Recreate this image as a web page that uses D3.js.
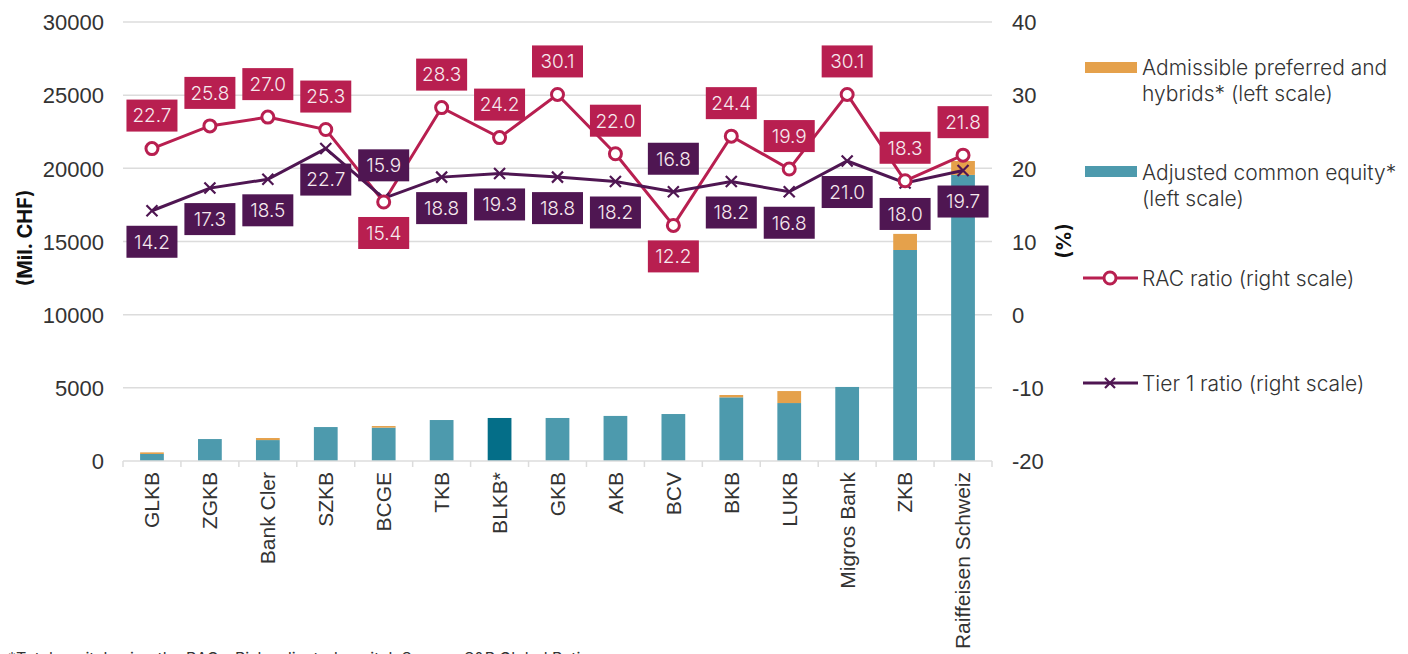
<!DOCTYPE html>
<html>
<head>
<meta charset="utf-8">
<script src="https://cdn.jsdelivr.net/npm/d3@7"></script>
<style>
  body { margin: 0; background: #fff; }
  svg { display: block; font-family: Inter, "Noto Sans", sans-serif; }
  .tick text { fill: #333; }
</style>
</head>
<body>
<svg id="chart" width="1408" height="654"></svg>
<script>
// data
const banks = ["GLKB", "ZGKB", "Bank Cler", "SZKB", "BCGE", "TKB", "BLKB*", "GKB", "AKB", "BCV", "BKB", "LUKB", "Migros Bank", "ZKB", "Raiffeisen Schweiz"];
const commonEquity = [480, 1500, 1430, 2320, 2280, 2800, 2940, 2940, 3080, 3210, 4350, 3960, 5060, 14420, 19550];
const hybrids = [110, 0, 140, 0, 110, 0, 0, 0, 0, 0, 160, 820, 0, 1100, 950];
const racRatio = [22.7, 25.8, 27.0, 25.3, 15.4, 28.3, 24.2, 30.1, 22.0, 12.2, 24.4, 19.9, 30.1, 18.3, 21.8];
const tier1Ratio = [14.2, 17.3, 18.5, 22.7, 15.9, 18.8, 19.3, 18.8, 18.2, 16.8, 18.2, 16.8, 21.0, 18.0, 19.7];
const leftTicks = [0, 5000, 10000, 15000, 20000, 25000, 30000];
const rightTicks = [-20, -10, 0, 10, 20, 30, 40];

const colors = {
  teal: "#4d9aad", orange: "#e5a14b", highlight: "#046e88",
  rac: "#b81f50", tier1: "#4f1652", grid: "#dcdcdc"
};

const svg = d3.select("#chart");
const margin = { left: 123, right: 416, top: 22, bottom: 193 };
const plotW = 1408 - margin.left - margin.right;
const plotH = 654 - margin.top - margin.bottom;

const g = svg.append("g").attr("transform", `translate(${margin.left},${margin.top})`);

const x = d3.scaleBand().domain(banks).range([0, plotW]).paddingInner(0.59).paddingOuter(0.295);
const xEdge = d3.scaleBand().domain(banks).range([0, plotW]);
const yL = d3.scaleLinear().domain([0, 30000]).range([plotH, 0]);
const yR = d3.scaleLinear().domain([-20, 40]).range([plotH, 0]);

// gridlines
g.selectAll(".grid").data(leftTicks.slice(1)).enter().append("line")
  .attr("x1", 0).attr("x2", plotW)
  .attr("y1", d => yL(d)).attr("y2", d => yL(d))
  .attr("stroke", colors.grid).attr("stroke-width", 1.5);

// left axis
const leftAxis = g.append("g").call(d3.axisLeft(yL).tickValues(leftTicks).tickSize(0).tickPadding(19).tickFormat(d => String(d)));
leftAxis.select(".domain").remove();
leftAxis.selectAll("text").attr("font-size", 22).attr("font-weight", 300).attr("dy", "0.35em");

// right axis
const rightAxis = g.append("g").attr("transform", `translate(${plotW},0)`)
  .call(d3.axisRight(yR).tickValues(rightTicks).tickSize(0).tickPadding(20).tickFormat(d => String(d)));
rightAxis.select(".domain").remove();
rightAxis.selectAll("text").attr("font-size", 22).attr("font-weight", 300).attr("dy", "0.35em");

// bars
const stack = banks.map((b, i) => ({ bank: b, ce: commonEquity[i], hy: hybrids[i] }));
g.selectAll(".ce").data(stack).enter().append("rect")
  .attr("x", d => x(d.bank)).attr("width", x.bandwidth())
  .attr("y", d => yL(d.ce)).attr("height", d => yL(0) - yL(d.ce))
  .attr("fill", d => d.bank === "BLKB*" ? colors.highlight : colors.teal);
g.selectAll(".hy").data(stack.filter(d => d.hy > 0)).enter().append("rect")
  .attr("x", d => x(d.bank)).attr("width", x.bandwidth())
  .attr("y", d => yL(d.ce + d.hy)).attr("height", d => yL(d.ce) - yL(d.ce + d.hy))
  .attr("fill", colors.orange);

// bottom axis
g.append("line").attr("x1", 0).attr("x2", plotW).attr("y1", plotH).attr("y2", plotH)
  .attr("stroke", colors.grid).attr("stroke-width", 1.5);
g.selectAll(".xt").data(banks.concat(["end"])).enter().append("line")
  .attr("x1", (d, i) => i * xEdge.step()).attr("x2", (d, i) => i * xEdge.step())
  .attr("y1", plotH).attr("y2", plotH + 6)
  .attr("stroke", colors.grid).attr("stroke-width", 1.5);
g.selectAll(".xl").data(banks).enter().append("text")
  .attr("transform", d => `translate(${x(d) + x.bandwidth() / 2},${plotH + 11}) rotate(-90)`)
  .attr("text-anchor", "end").attr("dy", "0.35em")
  .attr("font-family", "'Liberation Sans', Arial, sans-serif")
  .attr("font-size", 21).attr("fill", "#333")
  .text(d => d);

// lines
const cx = d => x(d) + x.bandwidth() / 2;
const ratioLine = d3.line().x((d, i) => cx(banks[i])).y(d => yR(d));
g.append("path").datum(racRatio).attr("d", ratioLine)
  .attr("fill", "none").attr("stroke", colors.rac).attr("stroke-width", 3);
g.append("path").datum(tier1Ratio).attr("d", ratioLine)
  .attr("fill", "none").attr("stroke", colors.tier1).attr("stroke-width", 3);

g.selectAll(".xm").data(tier1Ratio).enter().append("path")
  .attr("d", (d, i) => {
    const px = cx(banks[i]), py = yR(d), s = 5.5;
    return `M${px - s},${py - s}L${px + s},${py + s}M${px - s},${py + s}L${px + s},${py - s}`;
  })
  .attr("stroke", colors.tier1).attr("stroke-width", 2.2);

g.selectAll(".cm").data(racRatio).enter().append("circle")
  .attr("cx", (d, i) => cx(banks[i])).attr("cy", d => yR(d)).attr("r", 6)
  .attr("fill", "#fff").attr("stroke", colors.rac).attr("stroke-width", 3);

// data labels: higher series above the point, lower one below
function addLabels(values, other, color) {
  values.forEach((v, i) => {
    const px = cx(banks[i]), py = yR(v);
    const above = v >= other[i];
    const bw = 51, bh = 32;
    const top = above ? py - 17 - bh : py + 15;
    const lg = g.append("g");
    lg.append("rect").attr("x", px - bw / 2).attr("y", top).attr("width", bw).attr("height", bh).attr("fill", color);
    lg.append("text").attr("x", px).attr("y", top + bh / 2).attr("dy", "0.36em")
      .attr("text-anchor", "middle").attr("font-size", 19).attr("font-weight", 300)
      .attr("fill", "#f6e9ee").text(v.toFixed(1));
  });
}
addLabels(racRatio, tier1Ratio, colors.rac);
addLabels(tier1Ratio, racRatio, colors.tier1);

// axis titles
svg.append("text").attr("transform", "translate(32,238) rotate(-90)")
  .attr("text-anchor", "middle").attr("font-size", 20).attr("font-weight", 700).attr("fill", "#111")
  .text("(Mil. CHF)");
svg.append("text").attr("transform", "translate(1071,241) rotate(-90)")
  .attr("text-anchor", "middle").attr("font-size", 20).attr("font-weight", 700).attr("fill", "#111")
  .text("(%)");

// legend
const legend = svg.append("g").attr("font-size", 21).attr("font-weight", 300).attr("fill", "#333");
function legendText(y, lines) {
  const t = legend.append("text").attr("x", 1142).attr("y", y);
  lines.forEach((l, k) => t.append("tspan").attr("x", 1142).attr("dy", k === 0 ? 0 : 26).text(l));
}
legend.append("rect").attr("x", 1085).attr("y", 62).attr("width", 52).attr("height", 11).attr("fill", colors.orange);
legendText(75, ["Admissible preferred and", "hybrids* (left scale)"]);
legend.append("rect").attr("x", 1085).attr("y", 166).attr("width", 52).attr("height", 11).attr("fill", colors.teal);
legendText(180, ["Adjusted common equity*", "(left scale)"]);
legend.append("line").attr("x1", 1083).attr("x2", 1138).attr("y1", 278).attr("y2", 278).attr("stroke", colors.rac).attr("stroke-width", 3);
legend.append("circle").attr("cx", 1110).attr("cy", 278).attr("r", 6).attr("fill", "#fff").attr("stroke", colors.rac).attr("stroke-width", 3);
legendText(286, ["RAC ratio (right scale)"]);
legend.append("line").attr("x1", 1083).attr("x2", 1138).attr("y1", 383).attr("y2", 383).attr("stroke", colors.tier1).attr("stroke-width", 3);
legend.append("path").attr("d", "M1105,378L1115,388M1105,388L1115,378").attr("stroke", colors.tier1).attr("stroke-width", 2.2);
legendText(391, ["Tier 1 ratio (right scale)"]);

// footnote (cut off at the bottom edge, as in the source)
svg.append("text").attr("x", 8).attr("y", 664).attr("font-size", 16).attr("fill", "#333")
  .text("*Total capital using the RAC - Risk-adjusted capital. Source: S&P Global Ratings.");
</script>
</body>
</html>
